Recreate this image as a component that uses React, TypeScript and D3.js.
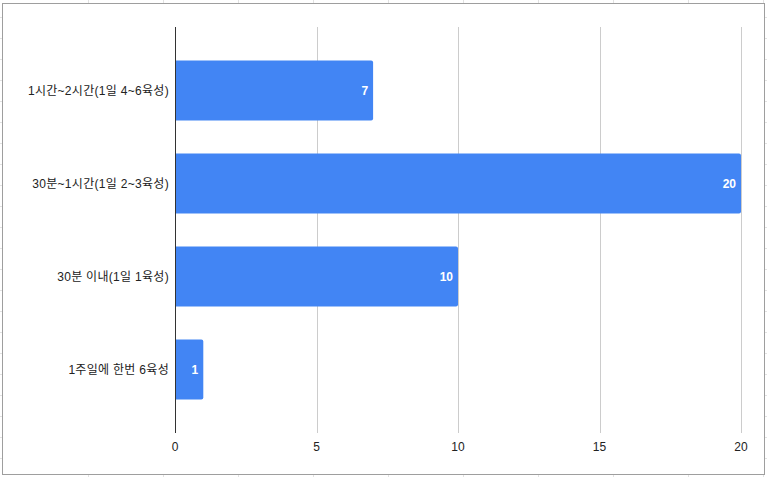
import React from "react";
import * as d3 from "d3";

const categories = [
  "1시간~2시간(1일 4~6육성)",
  "30분~1시간(1일 2~3육성)",
  "30분 이내(1일 1육성)",
  "1주일에 한번 6육성",
];
const values = [7, 20, 10, 1];
const xTicks = [0, 5, 10, 15, 20];

const W = 767;
const H = 477;
const FONT = '"Liberation Sans", Arial, "Noto Sans CJK KR", sans-serif';

export default function App() {
  const x = d3.scaleLinear().domain([0, 20]).range([175, 741]);
  const y = d3
    .scaleBand<string>()
    .domain(categories)
    .range([27, 433])
    .paddingInner(0.3548)
    .paddingOuter(0.3602);

  const bgV = d3.range(88, W, 75);
  const bgH = d3.range(17.3, H, 21);

  return (
    <div style={{ position: "absolute", left: 0, top: 0 }}>
      <svg width={W} height={H} style={{ display: "block" }}>
        <rect x={0} y={0} width={W} height={H} fill="#fff" />
        {bgV.map((v) => (
          <line key={"bv" + v} x1={v + 0.5} x2={v + 0.5} y1={0} y2={H} stroke="#e2e2e2" />
        ))}
        {bgH.map((v) => (
          <line key={"bh" + v} x1={0} x2={W} y1={Math.round(v) + 0.5} y2={Math.round(v) + 0.5} stroke="#e2e2e2" />
        ))}
        <rect x={2.5} y={3.5} width={762} height={471} fill="#fff" stroke="#9e9e9e" strokeWidth={1} />
        {xTicks.map((t) => (
          <g key={"t" + t}>
            {t !== 0 && (
              <line
                x1={Math.round(x(t)) + 0.5}
                x2={Math.round(x(t)) + 0.5}
                y1={27}
                y2={433}
                stroke="#cccccc"
              />
            )}
            <text
              x={x(t)}
              y={451}
              textAnchor="middle"
              fontFamily={FONT}
              fontSize={12}
              fill="#222"
            >
              {t}
            </text>
          </g>
        ))}
        {categories.map((c, i) => {
          const y0 = y(c) as number;
          const bw = y.bandwidth();
          const x1 = x(values[i]);
          return (
            <g key={c}>
              <path
                d={`M${x(0)},${y0}H${x1 - 2}Q${x1},${y0} ${x1},${y0 + 2}V${y0 + bw - 2}Q${x1},${y0 + bw} ${x1 - 2},${y0 + bw}H${x(0)}Z`}
                fill="#4285f4"
              />
              <text
                x={x1 - 5}
                y={y0 + bw / 2}
                dy="0.35em"
                textAnchor="end"
                fontFamily={FONT}
                fontSize={12}
                fontWeight="bold"
                fill="#fff"
              >
                {values[i]}
              </text>
              <text
                x={169}
                y={y0 + bw / 2}
                dy="0.35em"
                textAnchor="end"
                fontFamily={FONT}
                fontSize={12}
                letterSpacing={0.3}
                fill="#222"
              >
                {c}
              </text>
            </g>
          );
        })}
        <line x1={175.5} x2={175.5} y1={27} y2={433} stroke="#333" strokeWidth={1} />
      </svg>
    </div>
  );
}
